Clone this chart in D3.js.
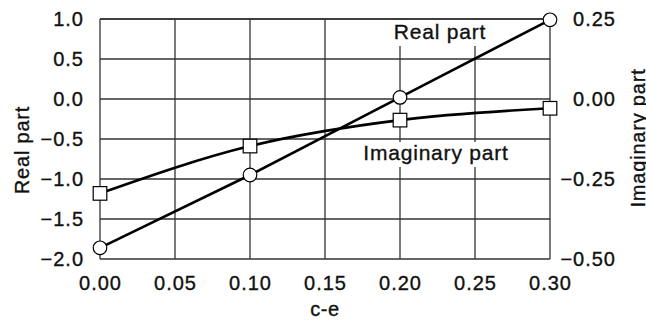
<!DOCTYPE html>
<html>
<head>
<meta charset="utf-8">
<script src="https://cdn.jsdelivr.net/npm/d3@7"></script>
<style>
  body { margin: 0; background: #fff; }
  svg text { font-family: "Liberation Sans", Arial, sans-serif; fill: #111; stroke: #111; stroke-width: 0.35px; }
</style>
</head>
<body>
<svg id="chart" width="646" height="322"></svg>
<script>
// data
const ceValues = [0.00, 0.10, 0.20, 0.30];
const realPart = [-1.86, -0.95, 0.02, 0.99];
const imagPart = [-0.295, -0.147, -0.066, -0.029];

const xTicks = [0.00, 0.05, 0.10, 0.15, 0.20, 0.25, 0.30];
const leftTicks = [1.0, 0.5, 0.0, -0.5, -1.0, -1.5, -2.0];
const rightTicks = [0.25, 0.00, -0.25, -0.50];

const svg = d3.select("#chart"),
      margin = { top: 19, right: 96, bottom: 63, left: 100 },
      width = 646 - margin.left - margin.right,
      height = 322 - margin.top - margin.bottom;

const x = d3.scaleLinear().domain([0, 0.3]).range([margin.left, margin.left + width]);
const yL = d3.scaleLinear().domain([-2, 1]).range([margin.top + height, margin.top]);
const yR = d3.scaleLinear().domain([-0.5, 0.25]).range([margin.top + height, margin.top]);

const gridColor = "#333";
const fmtMinus = s => s.replace("-", "\u2212");

// grid
const grid = svg.append("g").attr("stroke", gridColor).attr("stroke-width", 1.3);
grid.selectAll(".vx").data(xTicks).enter().append("line")
    .attr("x1", d => x(d)).attr("x2", d => x(d))
    .attr("y1", yL(1)).attr("y2", yL(-2));
grid.selectAll(".hy").data(leftTicks).enter().append("line")
    .attr("x1", x(0)).attr("x2", x(0.3))
    .attr("y1", d => yL(d)).attr("y2", d => yL(d));

// white boxes behind the series labels (they cut the grid)
svg.append("rect").attr("x", 390).attr("y", yL(1) + 1).attr("width", 100).attr("height", 26).attr("fill", "#fff");
svg.append("rect").attr("x", 357).attr("y", 142).attr("width", 158).attr("height", 25).attr("fill", "#fff");
// restore the top border over the box
svg.append("line").attr("x1", x(0)).attr("x2", x(0.3)).attr("y1", yL(1)).attr("y2", yL(1))
    .attr("stroke", gridColor).attr("stroke-width", 1.3);

// tick labels
const tickFont = 20;
svg.append("g").selectAll("text").data(xTicks).enter().append("text")
    .attr("x", d => x(d) + 0.5).attr("y", 290)
    .attr("text-anchor", "middle").attr("font-size", tickFont).attr("letter-spacing", 1)
    .text(d => d3.format(".2f")(d));
svg.append("g").selectAll("text").data(leftTicks).enter().append("text")
    .attr("x", 84).attr("y", d => yL(d)).attr("dy", "0.35em")
    .attr("text-anchor", "end").attr("font-size", tickFont).attr("letter-spacing", 1)
    .text(d => fmtMinus(d3.format(".1f")(d)));
svg.append("g").selectAll("text").data(rightTicks).enter().append("text")
    .attr("x", 616).attr("y", d => yR(d)).attr("dy", "0.35em")
    .attr("text-anchor", "end").attr("font-size", tickFont).attr("letter-spacing", 1)
    .text(d => fmtMinus(d3.format(".2f")(d)));

// axis titles
svg.append("text").attr("x", x(0.15)).attr("y", 316)
    .attr("text-anchor", "middle").attr("font-size", 20).attr("letter-spacing", 0.5).text("c-e");
svg.append("text").attr("transform", "translate(29,150) rotate(-90)")
    .attr("text-anchor", "middle").attr("font-size", 20).attr("letter-spacing", 0.8).text("Real part");
svg.append("text").attr("transform", "translate(645,138) rotate(-90)")
    .attr("text-anchor", "middle").attr("font-size", 20).attr("letter-spacing", 0.8).text("Imaginary part");

// series labels
svg.append("text").attr("x", 440).attr("y", 39)
    .attr("text-anchor", "middle").attr("font-size", 21).attr("letter-spacing", 0.8).text("Real part");
svg.append("text").attr("x", 436).attr("y", 160)
    .attr("text-anchor", "middle").attr("font-size", 21).attr("letter-spacing", 0.8).text("Imaginary part");

// series
const realPts = ceValues.map((c, i) => [x(c), yL(realPart[i])]);
const imagPts = ceValues.map((c, i) => [x(c), yR(imagPart[i])]);

svg.append("path").datum(realPts)
    .attr("d", d3.line().curve(d3.curveLinear))
    .attr("fill", "none").attr("stroke", "#000").attr("stroke-width", 2.6);
svg.append("path").datum(imagPts)
    .attr("d", d3.line().curve(d3.curveMonotoneX))
    .attr("fill", "none").attr("stroke", "#000").attr("stroke-width", 2.6);

svg.selectAll(".circ").data(realPts).enter().append("circle")
    .attr("cx", d => d[0]).attr("cy", d => d[1]).attr("r", 6.8)
    .attr("fill", "#fff").attr("stroke", "#000").attr("stroke-width", 1.2);
svg.selectAll(".sq").data(imagPts).enter().append("rect")
    .attr("x", d => d[0] - 6.8).attr("y", d => d[1] - 6.8)
    .attr("width", 13.6).attr("height", 13.6)
    .attr("fill", "#fff").attr("stroke", "#000").attr("stroke-width", 1.2);
</script>
</body>
</html>
